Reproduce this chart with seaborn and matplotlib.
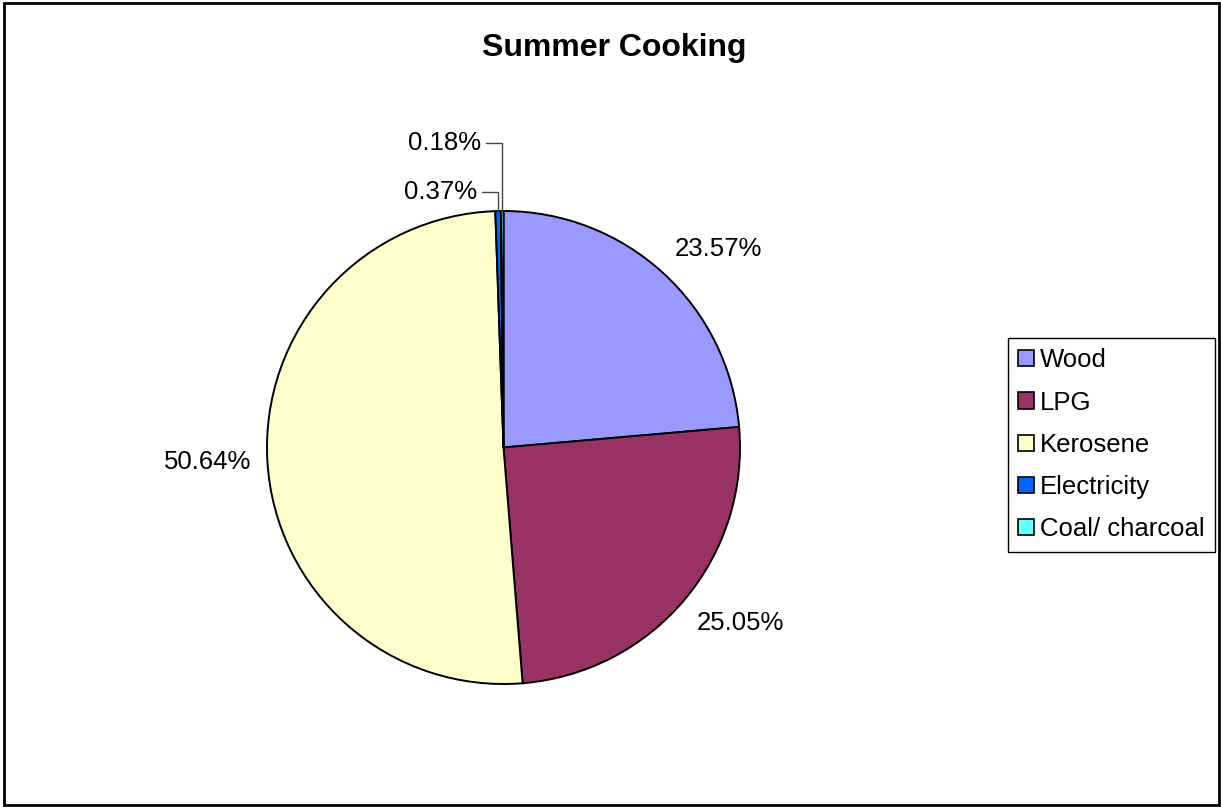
import numpy as np
import matplotlib
matplotlib.use("Agg")
import matplotlib.pyplot as plt
from matplotlib.patches import Rectangle
import seaborn as sns

# Summer cooking fuel shares (%)
fuels = ["Wood", "LPG", "Kerosene", "Electricity", "Coal/ charcoal"]
shares = [23.57, 25.05, 50.64, 0.37, 0.18]
share_labels = ["23.57%", "25.05%", "50.64%", "0.37%", "0.18%"]
colors = ["#9999FF", "#993366", "#FFFFCC", "#0066FF", "#66FFFF"]

sns.set_theme(style="white")
plt.rcParams["font.family"] = ["Liberation Sans", "DejaVu Sans"]
plt.rcParams["text.color"] = "black"

W, H = 1221, 807
fig = plt.figure(figsize=(W / 100, H / 100), dpi=100)
fig.patch.set_facecolor("white")

# outer chart border
fig.patches.append(Rectangle((4 / W, 2 / H), (W - 6) / W, (H - 5) / H,
                             transform=fig.transFigure, fill=False,
                             edgecolor="black", linewidth=2.0, zorder=10))

# pie axes: centre (503.5, 447.5) px, radius 236.5 px
cx, cy, r = 503.5, 447.5, 236.5
ax = fig.add_axes([(cx - r) / W, (H - cy - r) / H, 2 * r / W, 2 * r / H])
wedges, _ = ax.pie(shares, colors=colors, startangle=90, counterclock=False,
                   wedgeprops=dict(edgecolor="black", linewidth=1.4))
ax.set_xlim(-1, 1)
ax.set_ylim(-1, 1)
ax.set_aspect("equal")
ax.axis("off")

fs = 18.5
# labels for the large slices, placed just outside each wedge
for w, lab in zip(wedges[:3], share_labels[:3]):
    mid = np.deg2rad((w.theta1 + w.theta2) / 2)
    x, y = 1.07 * np.cos(mid), 1.07 * np.sin(mid)
    ha = "left" if x > 0.1 else ("right" if x < -0.1 else "center")
    va = "bottom" if y > 0.3 else ("top" if y < -0.3 else "center")
    ax.text(x, y, lab, ha=ha, va=va, fontsize=fs, color="black", clip_on=False)

# leader lines for the two thin slices
label_heights = [1.08, 1.288]
for w, lab, ly in zip(wedges[3:], share_labels[3:], label_heights):
    mid = np.deg2rad((w.theta1 + w.theta2) / 2)
    x0, y0 = np.cos(mid), np.sin(mid)
    x1 = x0 - 0.068
    ax.plot([x0, x0, x1], [y0, ly, ly], color="#444444", linewidth=1.0,
            clip_on=False, solid_joinstyle="miter")
    ax.text(x1 - 0.02, ly, lab, ha="right", va="center", fontsize=fs,
            color="black", clip_on=False)

fig.text(614 / W, 1 - 48 / H, "Summer Cooking", ha="center", va="center",
         fontsize=23, fontweight="bold", color="black")

leg = fig.legend(wedges, fuels, loc="upper left",
                 bbox_to_anchor=(1008 / W, 1 - 338 / H), borderaxespad=0,
                 fancybox=False, frameon=True, edgecolor="black", framealpha=1,
                 fontsize=18.5, handlelength=0.6, handleheight=0.6,
                 handletextpad=0.25, labelspacing=0.71, borderpad=0.4)
leg.get_frame().set_linewidth(1.0)
for t in leg.get_texts():
    t.set_color("black")
for p in leg.get_patches():
    p.set_edgecolor("black")
    p.set_linewidth(1.2)

fig.savefig("out.png", dpi=100, facecolor="white")
